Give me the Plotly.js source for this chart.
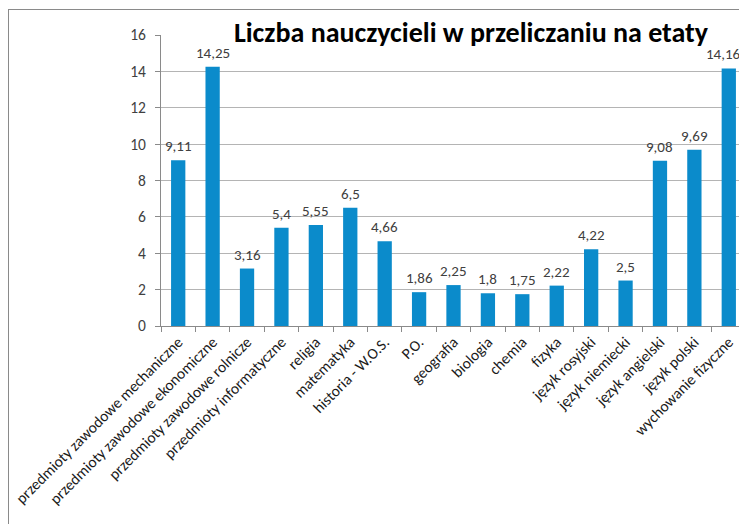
<!DOCTYPE html>
<html>
<head>
<meta charset="utf-8">
<script src="https://cdn.plot.ly/plotly-3.0.1.min.js"></script>
<style>
  html, body { margin: 0; padding: 0; width: 739px; height: 524px; overflow: hidden; background: #fff; }
  #frame { position: absolute; left: 8px; top: 9px; width: 800px; height: 600px; border: 1px solid #8a8a8a; box-sizing: border-box; }
  #chart { position: absolute; left: 0; top: 0; width: 770px; height: 524px; }
</style>
</head>
<body>
<div id="frame"></div>
<div id="chart"></div>
<script>
const categories = [
  "przedmioty zawodowe mechaniczne",
  "przedmioty zawodowe ekonomiczne",
  "przedmioty zawodowe rolnicze",
  "przedmioty informatyczne",
  "religia",
  "matematyka",
  "historia - W.O.S.",
  "P.O.",
  "geografia",
  "biologia",
  "chemia",
  "fizyka",
  "język rosyjski",
  "język niemiecki",
  "język angielski",
  "język polski",
  "wychowanie fizyczne"
];
const values = [9.11, 14.25, 3.16, 5.4, 5.55, 6.5, 4.66, 1.86, 2.25, 1.8, 1.75, 2.22, 4.22, 2.5, 9.08, 9.69, 14.16];
const yTicks = [0, 2, 4, 6, 8, 10, 12, 14, 16];
const titleText = "Liczba nauczycieli w przeliczaniu na etaty";

const FONT = "Carlito, Calibri, Lato, 'Open Sans', sans-serif";
const fmt = v => String(v).replace('.', ',');

const trace = {
  type: 'bar',
  x: categories,
  y: values,
  marker: { color: '#0b8bcb', line: { width: 0 } },
  hoverinfo: 'skip'
};

const annotations = categories.map((c, i) => ({
  x: c, y: values[i], xref: 'x', yref: 'y',
  text: fmt(values[i]),
  showarrow: false, yanchor: 'bottom', yshift: 3,
  xshift: i === categories.length - 1 ? -5 : 0,
  font: { family: FONT, size: 15, color: '#404040' }
}));

const W = 770, L = 161, R = W - 746;
const layout = {
  width: W, height: 524,
  margin: { l: L, r: R, t: 35, b: 198 },
  paper_bgcolor: 'rgba(0,0,0,0)',
  plot_bgcolor: 'rgba(0,0,0,0)',
  showlegend: false,
  bargap: 0.585,
  title: {
    text: '<b>' + titleText + '</b>',
    font: { family: FONT, size: 28, color: '#000' },
    x: 471 / W, xanchor: 'center', y: 1 - 32 / 524, yanchor: 'middle'
  },
  xaxis: {
    type: 'category',
    range: [-0.5, 16.5],
    tickangle: -45,
    tickson: 'boundaries',
    ticks: 'outside', ticklen: 5, tickcolor: '#8a8a8a',
    showgrid: false,
    showline: true, linecolor: '#8a8a8a', linewidth: 1,
    tickfont: { family: FONT, size: 15.5, color: '#1a1a1a' },
    fixedrange: true
  },
  yaxis: {
    range: [0, 16],
    tickvals: yTicks,
    ticktext: yTicks.map(String),
    ticks: 'outside', ticklen: 5, tickcolor: '#8a8a8a',
    showgrid: true, gridcolor: '#b4b4b4', gridwidth: 1,
    zeroline: false,
    showline: true, linecolor: '#8a8a8a', linewidth: 1,
    tickfont: { family: FONT, size: 15.5, color: '#404040' },
    ticklabelstandoff: 6,
    fixedrange: true
  },
  annotations: annotations
};

Plotly.newPlot('chart', [trace], layout, { displayModeBar: false, staticPlot: true });
</script>
</body>
</html>
